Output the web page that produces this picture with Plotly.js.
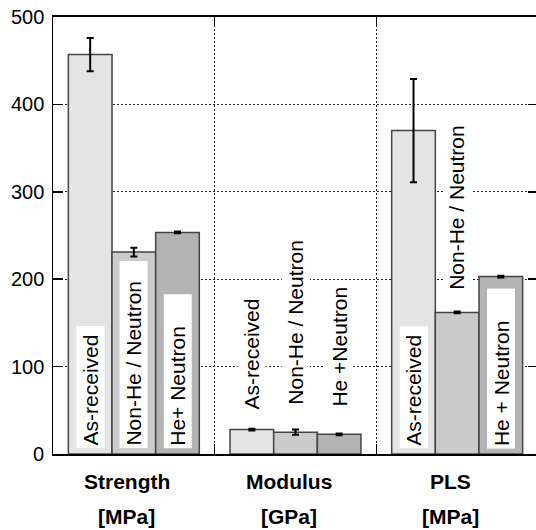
<!DOCTYPE html>
<html><head><meta charset="utf-8">
<script src="https://cdn.plot.ly/plotly-3.0.1.min.js"></script>
<style>html,body{margin:0;padding:0;overflow:hidden;background:#fff}</style>
</head><body><div id="chart"></div>
<script>
// ---- data ----
const groups = ['Strength', 'Modulus', 'PLS'];
const units = ['[MPa]', '[GPa]', '[MPa]'];
const groupPos = [0.5, 1.5, 2.5];
const seriesNames = ['As-received', 'Non-He / Neutron', 'He + Neutron'];
const asReceived = [457, 28, 370];
const asReceivedErr = [19, 1, 59];
const nonHe = [231, 25, 162];
const nonHeErr = [5, 3, 1];
const heNeutron = [253.5, 22.5, 203];
const heNeutronErr = [1, 1, 1];
const labelsAsReceived = ['As-received', 'As-received', 'As-received'];
const labelsNonHe = ['Non-He / Neutron', 'Non-He / Neutron', 'Non-He / Neutron'];
const labelsHe = ['He+ Neutron', 'He +Neutron', 'He + Neutron'];
const yTicks = [0, 100, 200, 300, 400, 500];

// ---- style / placement ----
const colors = ['#e4e4e4', '#cbcbcb', '#b3b3b3'];
const labelY = [[6, 48, 6], [6, 53, 184], [6, 51, 6]];
const labelPadTop = [[1, 0, 1], [3, 0, 0], [5, 0, 5]];   // extra blank space at the top of each label box
const barW = 0.27;
const FONT = 'Liberation Sans, Arial, Helvetica, sans-serif';

const values = [asReceived, nonHe, heNeutron];
const errs = [asReceivedErr, nonHeErr, heNeutronErr];
const labels = [labelsAsReceived, labelsNonHe, labelsHe];

const traces = values.map((v, i) => ({
  type: 'bar', x: groupPos, y: v, name: seriesNames[i],
  marker: {color: colors[i], line: {color: '#444', width: 1.5}},
  error_y: {type: 'data', array: errs[i], visible: true, color: '#000', thickness: 2, width: 3.5},
  hoverinfo: 'skip'
}));

const annotations = [];
labels.forEach((arr, i) => {
  arr.forEach((t, g) => {
    annotations.push({
      x: groupPos[g] + (i - 1) * barW, y: labelY[i][g], xref: 'x', yref: 'y',
      text: t + '\u00a0'.repeat(labelPadTop[i][g]), textangle: -90, showarrow: false,
      xanchor: 'center', yanchor: 'bottom',
      bgcolor: '#ffffff', borderpad: 2,
      font: {family: FONT, size: 21, color: '#000'}
    });
  });
});
groups.forEach((g, k) => {
  annotations.push({x: groupPos[k], y: -0.062, xref: 'x', yref: 'paper', text: g, showarrow: false,
    xanchor: 'center', yanchor: 'middle', xshift: -7,
    font: {family: FONT, size: 21, color: '#000', weight: 'bold'}});
  annotations.push({x: groupPos[k], y: -0.143, xref: 'x', yref: 'paper', text: units[k], showarrow: false,
    xanchor: 'center', yanchor: 'middle', xshift: -7,
    font: {family: FONT, size: 21, color: '#000', weight: 'bold'}});
});
// y tick labels, placed through the y scale
yTicks.forEach(v => {
  annotations.push({x: 0, y: v, xref: 'paper', yref: 'y', text: String(v), showarrow: false,
    xanchor: 'right', yanchor: 'middle', xshift: -8, borderpad: 0,
    font: {family: FONT, size: 20, color: '#000'}});
});

const layout = {
  width: 538, height: 530,
  margin: {l: 53, r: 0, t: 17, b: 76},
  paper_bgcolor: '#fff', plot_bgcolor: '#fff',
  showlegend: false,
  barmode: 'group', bargap: 0.19, bargroupgap: 0,
  font: {family: FONT, size: 20, color: '#000'},
  xaxis: {
    range: [0, 3], tickvals: [1, 2], showticklabels: false,
    ticks: 'inside', ticklen: 10, tickwidth: 1.5, tickcolor: '#000',
    showgrid: true, gridcolor: '#222', griddash: '2px,2px', gridwidth: 1,
    showline: true, linecolor: '#000', linewidth: 2, mirror: 'ticks', zeroline: false
  },
  yaxis: {
    range: [0, 500], tickvals: yTicks, showticklabels: false,
    ticks: 'inside', ticklen: 10, tickwidth: 1.5, tickcolor: '#000',
    showgrid: true, gridcolor: '#222', griddash: '2px,2px', gridwidth: 1,
    showline: true, linecolor: '#000', linewidth: 1.5, mirror: 'ticks', zeroline: false
  },
  annotations: annotations
};

Plotly.newPlot('chart', traces, layout, {staticPlot: true, displayModeBar: false});
</script>
</body></html>
